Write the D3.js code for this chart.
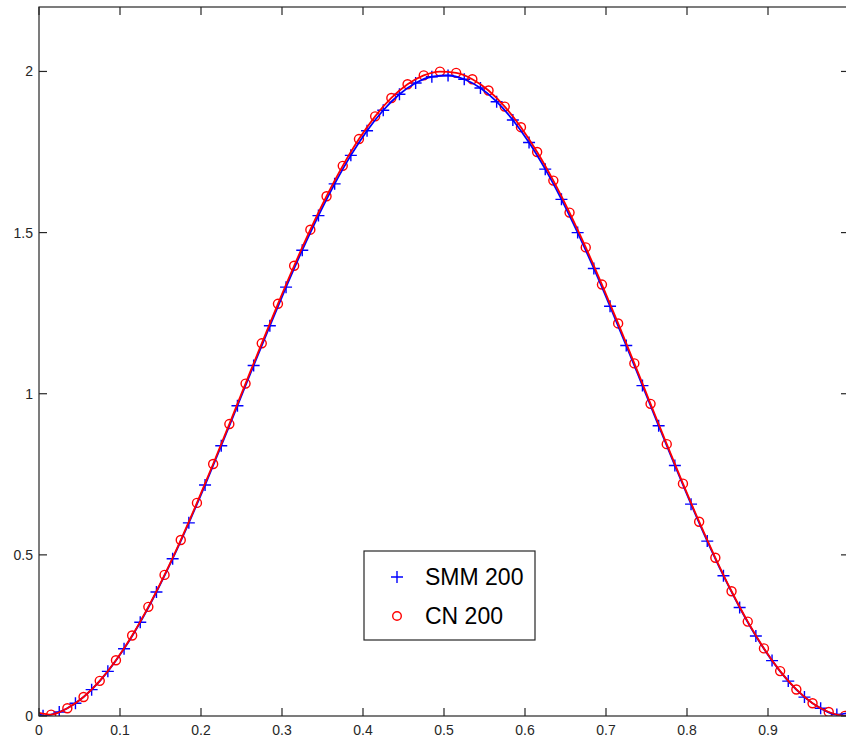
<!DOCTYPE html>
<html lang="en">
<head>
  <meta charset="UTF-8" />
  <title>SMM vs CN</title>
  <style>
    html, body { margin: 0; padding: 0; background: #fff; }
    svg { display: block; font-family: "Liberation Sans", Arial, Helvetica, sans-serif; }
  </style>
</head>
<body>
  <script src="https://d3js.org/d3.v7.min.js"></script>
  <script>
    // marker positions (every 4th node of the 200 grid)
    const smmX = [0.005, 0.025, 0.045, 0.065, 0.085, 0.105, 0.125, 0.145, 0.165, 0.185,
      0.205, 0.225, 0.245, 0.265, 0.285, 0.305, 0.325, 0.345, 0.365, 0.385,
      0.405, 0.425, 0.445, 0.465, 0.485, 0.505, 0.525, 0.545, 0.565, 0.585,
      0.605, 0.625, 0.645, 0.665, 0.685, 0.705, 0.725, 0.745, 0.765, 0.785,
      0.805, 0.825, 0.845, 0.865, 0.885, 0.905, 0.925, 0.945, 0.965, 0.985];
    const smmY = [0.0005, 0.0122, 0.0395, 0.0818, 0.1385, 0.2085, 0.2911, 0.3848, 0.4881, 0.5993,
      0.7167, 0.8385, 0.9628, 1.0875, 1.2108, 1.3307, 1.4453, 1.5527, 1.6513, 1.7396,
      1.8161, 1.8797, 1.9293, 1.9640, 1.9836, 1.9875, 1.9758, 1.9485, 1.9062, 1.8495,
      1.7795, 1.6969, 1.6032, 1.4999, 1.3887, 1.2713, 1.1495, 1.0252, 0.9005, 0.7772,
      0.6573, 0.5427, 0.4353, 0.3367, 0.2484, 0.1719, 0.1083, 0.0587, 0.0240, 0.0044];

    const cnX = [0.015, 0.035, 0.055, 0.075, 0.095, 0.115, 0.135, 0.155, 0.175, 0.195,
      0.215, 0.235, 0.255, 0.275, 0.295, 0.315, 0.335, 0.355, 0.375, 0.395,
      0.415, 0.435, 0.455, 0.475, 0.495, 0.515, 0.535, 0.555, 0.575, 0.595,
      0.615, 0.635, 0.655, 0.675, 0.695, 0.715, 0.735, 0.755, 0.775, 0.795,
      0.815, 0.835, 0.855, 0.875, 0.895, 0.915, 0.935, 0.955, 0.975, 0.995];
    const cnY = [0.0044, 0.0241, 0.0591, 0.1090, 0.1729, 0.2499, 0.3387, 0.4379, 0.5460, 0.6613,
      0.7819, 0.9059, 1.0314, 1.1564, 1.2790, 1.3971, 1.5090, 1.6129, 1.7071, 1.7902,
      1.8607, 1.9177, 1.9603, 1.9877, 1.9995, 1.9956, 1.9759, 1.9409, 1.8910, 1.8271,
      1.7501, 1.6613, 1.5621, 1.4540, 1.3387, 1.2181, 1.0941, 0.9686, 0.8436, 0.7210,
      0.6029, 0.4910, 0.3871, 0.2929, 0.2098, 0.1393, 0.0823, 0.0397, 0.0123, 0.0005];

    // boundary values of the full curves
    const edgeX = [0, 1];
    const smmEdge = [0.01, 0.01];
    const cnEdge = [0.01, 0.01];

    const xTicks = [0, 0.1, 0.2, 0.3, 0.4, 0.5, 0.6, 0.7, 0.8, 0.9];
    const yTicks = [0, 0.5, 1, 1.5, 2];
    const legendLabels = ["SMM 200", "CN 200"];

    const W = 846, H = 740;
    const mLeft = 39, mTop = 7, mRight = 849, mBottom = 716;
    const axisColor = "#262626";

    const x = d3.scaleLinear().domain([0, 1]).range([mLeft, mRight]);
    const y = d3.scaleLinear().domain([0, 2.2]).range([mBottom, mTop]);

    const svg = d3.select("body").append("svg").attr("width", W).attr("height", H);

    svg.append("defs").append("clipPath").attr("id", "clip")
      .append("rect").attr("x", mLeft).attr("y", mTop).attr("width", mRight - mLeft).attr("height", mBottom - mTop);

    const plot = svg.append("g").attr("clip-path", "url(#clip)");

    const zip = (xs, ys) => xs.map((v, i) => [v, ys[i]]);
    const smmPts = zip(smmX, smmY), cnPts = zip(cnX, cnY);
    const smmLine = [[edgeX[0], smmEdge[0]], ...smmPts, [edgeX[1], smmEdge[1]]];
    const cnLine = [[edgeX[0], cnEdge[0]], ...cnPts, [edgeX[1], cnEdge[1]]];

    const line = d3.line().x(d => x(d[0])).y(d => y(d[1])).curve(d3.curveMonotoneX);

    // markers first, lines on top (as in the original figure)
    plot.append("g").selectAll("path").data(smmPts).enter().append("path")
      .attr("transform", d => `translate(${x(d[0])},${y(d[1])})`)
      .attr("d", "M-6,0H6M0,-6V6")
      .attr("stroke", "#0000ff").attr("stroke-width", 1.4).attr("fill", "none");

    plot.append("g").selectAll("circle").data(cnPts).enter().append("circle")
      .attr("cx", d => x(d[0])).attr("cy", d => y(d[1])).attr("r", 4.5)
      .attr("stroke", "#ff0000").attr("stroke-width", 1.4).attr("fill", "none");

    plot.append("path").datum(smmLine).attr("d", line)
      .attr("fill", "none").attr("stroke", "#0000ff").attr("stroke-width", 1.8);
    plot.append("path").datum(cnLine).attr("d", line)
      .attr("fill", "none").attr("stroke", "#ff0000").attr("stroke-width", 1.8);

    // box
    const frame = svg.append("g").attr("stroke", axisColor).attr("stroke-width", 1.2).attr("fill", "none");
    frame.append("rect").attr("x", mLeft).attr("y", mTop).attr("width", mRight - mLeft).attr("height", mBottom - mTop);

    // ticks inside, all four sides
    const tl = 8;
    xTicks.forEach(t => {
      frame.append("line").attr("x1", x(t)).attr("x2", x(t)).attr("y1", mBottom).attr("y2", mBottom - tl);
      frame.append("line").attr("x1", x(t)).attr("x2", x(t)).attr("y1", mTop).attr("y2", mTop + tl);
    });
    yTicks.forEach(t => {
      frame.append("line").attr("x1", mLeft).attr("x2", mLeft + tl).attr("y1", y(t)).attr("y2", y(t));
      frame.append("line").attr("x1", mRight).attr("x2", mRight - tl).attr("y1", y(t)).attr("y2", y(t));
    });

    svg.append("g").selectAll("text").data(xTicks).enter().append("text")
      .attr("x", d => x(d)).attr("y", 735).attr("text-anchor", "middle")
      .attr("font-size", 14).attr("fill", axisColor).text(d => d3.format("")(d));

    svg.append("g").selectAll("text").data(yTicks).enter().append("text")
      .attr("x", 33).attr("y", d => y(d) + 5).attr("text-anchor", "end")
      .attr("font-size", 14).attr("fill", axisColor).text(d => d3.format("")(d));

    // legend
    const lg = svg.append("g");
    lg.append("rect").attr("x", 364).attr("y", 551).attr("width", 171).attr("height", 89)
      .attr("fill", "#fff").attr("stroke", axisColor).attr("stroke-width", 1.2);
    lg.append("path").attr("d", "M391,577H403M397,571V583")
      .attr("stroke", "#0000ff").attr("stroke-width", 1.4);
    lg.append("circle").attr("cx", 397).attr("cy", 616).attr("r", 4.3)
      .attr("fill", "none").attr("stroke", "#ff0000").attr("stroke-width", 1.4);
    lg.selectAll("text").data(legendLabels).enter().append("text")
      .attr("x", 425).attr("y", (d, i) => 585 + i * 39)
      .attr("font-size", 23).attr("fill", "#000").text(d => d);
  </script>
</body>
</html>
